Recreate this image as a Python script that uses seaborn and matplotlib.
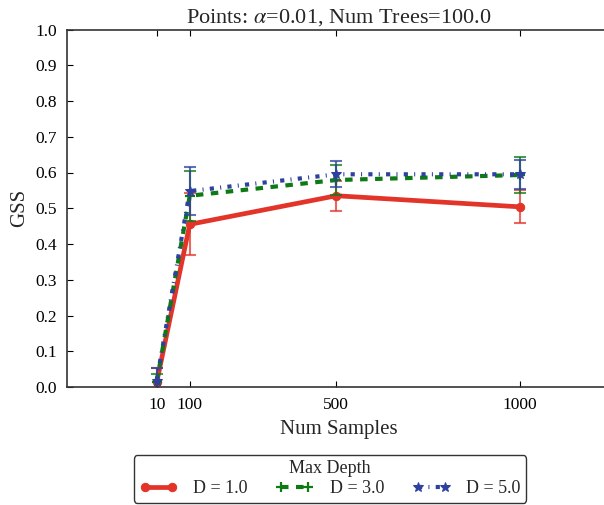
import matplotlib
matplotlib.use("Agg")
import matplotlib.pyplot as plt
import seaborn as sns
import pandas as pd

num_samples = [10, 100, 500, 1000]
depth_labels = ["D = 1.0", "D = 3.0", "D = 5.0"]
gss_d1 = [0.014, 0.455, 0.535, 0.504]
gss_d3 = [0.015, 0.535, 0.579, 0.593]
gss_d5 = [0.018, 0.548, 0.595, 0.595]
err_d1 = [0.040, 0.087, 0.042, 0.046]
err_d3 = [0.020, 0.070, 0.043, 0.050]
err_d5 = [0.035, 0.067, 0.036, 0.040]
y_ticks = [0.0, 0.1, 0.2, 0.3, 0.4, 0.5, 0.6, 0.7, 0.8, 0.9, 1.0]

sns.set_style("ticks")
plt.rcParams["font.family"] = ["Liberation Serif", "DejaVu Serif"]
plt.rcParams["mathtext.fontset"] = "stix"

fig = plt.figure(figsize=(6.04, 5.05), dpi=100)
ax = fig.add_axes([67/604, 1 - 387/505, (610 - 67)/604, (387 - 29.5)/505])

styles = [
    dict(color="#e3342a", marker="o", markersize=6, lw=3.4, ls="-"),
    dict(color="#0d7a14", marker="+", markersize=7, mew=1.6, lw=3.0, ls=(0, (1.8, 1.8))),
    dict(color="#2e40a0", marker="*", markersize=7, lw=3.0, ls=(0, (1, 1.5, 0.25, 1.5))),
]
series = [gss_d1, gss_d3, gss_d5]
errs = [err_d1, err_d3, err_d5]

for lab, ys, es, st in zip(depth_labels, series, errs, styles):
    df = pd.DataFrame({"n": num_samples, "gss": ys})
    st = dict(st)
    color = st.pop("color")
    ls = st.pop("ls")
    sns.lineplot(data=df, x="n", y="gss", ax=ax, color=color, linestyle=ls,
                 label=lab, markeredgecolor=color, **st)
    ax.errorbar(num_samples, ys, yerr=es, fmt="none", ecolor=color, alpha=0.75,
                elinewidth=1.5, capsize=4, capthick=1.5)

ax.set_xlim(-235, 1247)
ax.set_ylim(0, 1)
ax.set_xticks(num_samples)
ax.set_xticklabels([str(v) for v in num_samples])
ax.set_yticks(y_ticks)
ax.set_yticklabels([f"{v:.1f}" for v in y_ticks])
ax.tick_params(direction="in", top=True, right=False, labelsize=12.5, colors="black",
               length=4, pad=7)
for s in ax.spines.values():
    s.set_linewidth(1.2)
    s.set_color("#333333")
ax.set_xlabel("Num Samples", fontsize=15, labelpad=5)
ax.set_ylabel("GSS", fontsize=15, labelpad=5)
ax.set_title(r"Points: $\alpha$=0.01, Num Trees=100.0", fontsize=16, pad=5)

leg = ax.legend(title="Max Depth", ncol=3, numpoints=2, loc="upper center",
                bbox_to_anchor=(330/604, 1 - 446/505), bbox_transform=fig.transFigure,
                fontsize=13, title_fontsize=13, frameon=True, fancybox=True,
                edgecolor="black", handlelength=2.1, columnspacing=1.55,
                borderpad=0.3, labelspacing=0.15, handletextpad=0.9)
leg.get_frame().set_linewidth(1.0)

fig.savefig("out.png", dpi=100)
